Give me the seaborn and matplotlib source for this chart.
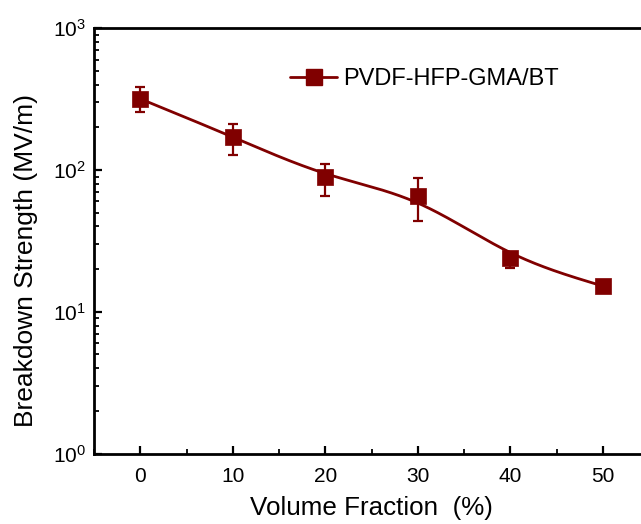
import numpy as np
import pandas as pd
import matplotlib
matplotlib.use("Agg")
import matplotlib.pyplot as plt
from matplotlib.lines import Line2D
from matplotlib.ticker import MultipleLocator, LogLocator
import seaborn as sns

# ---- data ----
volume_fraction = [0, 10, 20, 30, 40, 50]
breakdown_strength = [318, 172, 89, 66, 23.8, 15.2]
err_low = [258, 128, 66, 43.6, 20.2, 14.2]
err_high = [383, 211, 110, 87.3, 26.0, 16.2]
series_label = "PVDF-HFP-GMA/BT"
x_label = "Volume Fraction  (%)"
y_label = "Breakdown Strength (MV/m)"

color = "#800000"

sns.set_style("ticks")
plt.rcParams["font.family"] = ["Liberation Sans", "DejaVu Sans"]
plt.rcParams["mathtext.fontset"] = "custom"
plt.rcParams["mathtext.rm"] = "Liberation Sans"
plt.rcParams["mathtext.it"] = "Liberation Sans"
plt.rcParams["mathtext.bf"] = "Liberation Sans"
for key in ["text.color", "axes.labelcolor", "xtick.color", "ytick.color",
            "axes.edgecolor"]:
    plt.rcParams[key] = "black"

df = pd.DataFrame({"x": volume_fraction, "y": breakdown_strength})


def bspline_curve(xk, yk, per_seg=60):
    """Uniform cubic B-spline line connection (as in Origin's B-spline style),
    with reflected end control points so it starts/ends on the first/last point."""
    P = np.column_stack([np.asarray(xk, float), np.asarray(yk, float)])
    P = np.vstack([2 * P[0] - P[1], P, 2 * P[-1] - P[-2]])
    out = []
    t = np.linspace(0, 1, per_seg, endpoint=False)
    b0 = (1 - t) ** 3 / 6
    b1 = (3 * t ** 3 - 6 * t ** 2 + 4) / 6
    b2 = (-3 * t ** 3 + 3 * t ** 2 + 3 * t + 1) / 6
    b3 = t ** 3 / 6
    for i in range(len(P) - 3):
        seg = (b0[:, None] * P[i] + b1[:, None] * P[i + 1]
               + b2[:, None] * P[i + 2] + b3[:, None] * P[i + 3])
        out.append(seg)
    out.append(P[-2][None, :])
    out = np.vstack(out)
    return out[:, 0], out[:, 1]


xs, ly = bspline_curve(df["x"], np.log10(df["y"]))
curve = pd.DataFrame({"x": xs, "y": 10 ** ly})

fig = plt.figure(figsize=(6.41, 5.24), dpi=100)
ax = fig.add_axes([94 / 641, 1 - 453.5 / 524, (649 - 94) / 641, (453.5 - 28.3) / 524])

sns.lineplot(data=curve, x="x", y="y", ax=ax, color=color, lw=2.0, zorder=2,
             sort=False, estimator=None)
yv = np.array(breakdown_strength)
ax.errorbar(volume_fraction, yv,
            yerr=[yv - np.array(err_low), np.array(err_high) - yv],
            fmt="none", ecolor=color, elinewidth=1.6, capsize=3.4, capthick=1.6, zorder=3)
sns.scatterplot(data=df, x="x", y="y", ax=ax, marker="s", s=120, color=color,
                edgecolor=color, linewidth=0.5, zorder=4)

ax.set_yscale("log")
ax.set_ylim(1, 1000)
ax.set_xlim(-5, 55)
ax.xaxis.set_major_locator(MultipleLocator(10))
ax.xaxis.set_minor_locator(MultipleLocator(5))
ax.yaxis.set_major_locator(LogLocator(base=10, numticks=10))
ax.yaxis.set_minor_locator(LogLocator(base=10, subs=np.arange(2, 10), numticks=20))

ax.tick_params(which="major", direction="in", length=6, width=1.6, labelsize=15,
               top=False, right=False, colors="black")
ax.tick_params(axis="x", which="major", pad=10)
ax.tick_params(axis="y", which="major", pad=6)
ax.tick_params(which="minor", direction="in", length=3.5, width=1.3,
               top=False, right=False, colors="black")
for s in ax.spines.values():
    s.set_linewidth(2)
    s.set_color("black")

ax.set_xlabel(x_label, fontsize=18.7, labelpad=7, color="black")
ax.set_ylabel(y_label, fontsize=19, color="black")
ax.yaxis.set_label_coords((38 - 94) / 555, (453.5 - 260.5) / 425.2)

handle = Line2D([], [], color=color, lw=2.0, marker="s", markersize=11,
                markerfacecolor=color, markeredgecolor=color)
leg = ax.legend([handle], [series_label], loc="center left",
                bbox_to_anchor=(290 / 641, 1 - 79 / 524), bbox_transform=fig.transFigure,
                frameon=False, fontsize=17, handlelength=2.0, handletextpad=0.25,
                borderpad=0, borderaxespad=0)
for txt in leg.get_texts():
    txt.set_color("black")

fig.savefig("out.png", dpi=100)
